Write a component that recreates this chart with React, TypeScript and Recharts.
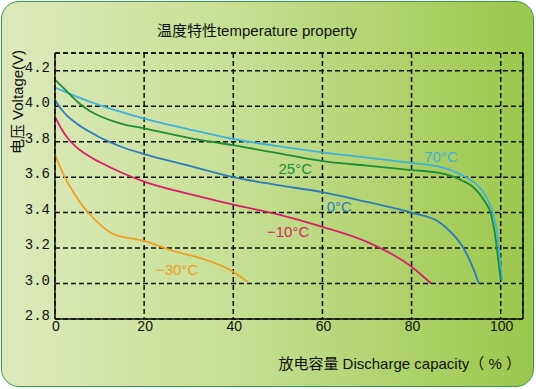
import React from "react";
import {
  CartesianGrid,
  Label,
  Line,
  LineChart,
  ReferenceDot,
  ReferenceLine,
  XAxis,
  YAxis
} from "recharts";

// discharge capacity (%) and voltage (V) per temperature
const cap70 = [0, 5, 10, 15, 20, 30, 40, 50, 60, 70, 80, 86, 91.4, 93.5, 95, 96.5, 98, 99.2, 99.8, 100.3];
const volt70 = [4.105, 4.053, 4.006, 3.966, 3.93, 3.87, 3.815, 3.775, 3.74, 3.71, 3.68, 3.66, 3.61, 3.58, 3.55, 3.5, 3.415, 3.285, 3.15, 3.02];

const cap25 = [0, 2, 4, 6, 8, 10, 15, 20, 30, 40, 50, 60, 70, 80, 86, 91.4, 93.5, 95.1, 96.5, 97.7, 98.9, 99.5, 100];
const volt25 = [4.15, 4.1, 4.05, 4.005, 3.97, 3.945, 3.9, 3.875, 3.822, 3.78, 3.735, 3.69, 3.665, 3.64, 3.625, 3.58, 3.55, 3.51, 3.46, 3.4, 3.245, 3.12, 3.02];

const cap0 = [0, 1.5, 3, 5, 7.5, 10, 15, 20, 30, 40, 50, 60, 70, 80, 86, 88.4, 91.4, 93.6, 95.1];
const volt0 = [4.035, 3.98, 3.94, 3.9, 3.86, 3.825, 3.77, 3.73, 3.665, 3.6, 3.555, 3.515, 3.46, 3.4, 3.35, 3.3, 3.21, 3.1, 3.0];

const capM10 = [0, 1.5, 3, 5, 7.5, 10, 15, 20, 30, 40, 50, 60, 70, 80, 84.4];
const voltM10 = [3.94, 3.87, 3.815, 3.765, 3.72, 3.685, 3.625, 3.575, 3.505, 3.445, 3.39, 3.32, 3.235, 3.095, 3.0];

const capM30 = [0, 2, 4, 6, 8, 10, 12, 14, 17, 20, 25.7, 32.4, 40, 43.2];
const voltM30 = [3.725, 3.61, 3.52, 3.445, 3.385, 3.335, 3.295, 3.27, 3.255, 3.24, 3.19, 3.145, 3.067, 3.01];

const xTicks = [0, 20, 40, 60, 80, 100];
const yTicks = [2.8, 3.0, 3.2, 3.4, 3.6, 3.8, 4.0, 4.2];

const toPoints = (caps: number[], volts: number[]) =>
  caps.map((c, i) => ({ cap: c, v: volts[i] }));

const series = [
  { name: "70", color: "#3eb1dc", data: toPoints(cap70, volt70) },
  { name: "25", color: "#1f8c38", data: toPoints(cap25, volt25) },
  { name: "0", color: "#2c7bba", data: toPoints(cap0, volt0) },
  { name: "-10", color: "#d81e66", data: toPoints(capM10, voltM10) },
  { name: "-30", color: "#eaa024", data: toPoints(capM30, voltM30) }
];

// curve captions, placed in data coordinates
const captions = [
  { text: "70°C", cap: 86.6, v: 3.714, color: "#3eb1dc" },
  { text: "25°C", cap: 53.9, v: 3.646, color: "#1f8c38" },
  { text: "0°C", cap: 63.8, v: 3.432, color: "#2c7bba" },
  { text: "−10°C", cap: 52.3, v: 3.29, color: "#d81e66" },
  { text: "−30°C", cap: 27.4, v: 3.076, color: "#eaa024" }
];

const FONT = "'Liberation Sans', 'Noto Sans CJK SC', sans-serif";

const YTick = ({ x, y, payload }: any) => (
  <text
    x={x}
    y={y - 3}
    textAnchor="end"
    dominantBaseline="central"
    fontFamily="'Liberation Mono', monospace"
    fontSize={14}
    fill="#111"
  >
    {Number(payload.value).toFixed(1)}
  </text>
);

const XTick = ({ x, y, payload }: any) => (
  <text
    x={x + 1}
    y={y + 5}
    textAnchor="middle"
    dominantBaseline="central"
    fontFamily={FONT}
    fontSize={14}
    fill="#111"
  >
    {payload.value}
  </text>
);

export default function App() {
  return (
    <div style={{ position: "absolute", left: 0, top: 0, width: 536, height: 389 }}>
      <div
        style={{
          position: "absolute",
          left: 1,
          top: 1,
          width: 531,
          height: 384,
          borderRadius: 18,
          border: "1.5px solid #2f9c4c",
          background: "linear-gradient(90deg, #dde9bc 0%, #c6df93 45%, #9bc74b 100%)"
        }}
      />
      <div
        style={{
          position: "absolute",
          left: 0,
          top: 19,
          width: 514,
          textAlign: "center",
          fontFamily: FONT,
          fontSize: 15,
          color: "#111"
        }}
      >
        温度特性temperature property
      </div>
      <div style={{ position: "absolute", left: 0, top: 0 }}>
        <LineChart
          width={536}
          height={389}
          margin={{ top: 53, right: 13, bottom: 40, left: 0 }}
        >
          <CartesianGrid
            stroke="#111"
            strokeWidth={1.5}
            strokeDasharray="5 3"
            vertical
            horizontal
          />
          <XAxis
            type="number"
            dataKey="cap"
            domain={[0, 105]}
            ticks={xTicks}
            height={30}
            tickLine={false}
            tickSize={0}
            axisLine={{ stroke: "#111", strokeWidth: 1.5 }}
            tick={<XTick />}
            allowDataOverflow
          >
            <Label
              content={() => (
                <text
                  x={521}
                  y={363}
                  textAnchor="end"
                  dominantBaseline="central"
                  fontFamily={FONT}
                  fontSize={15}
                  fill="#111"
                >
                  放电容量 Discharge capacity（ % ）
                </text>
              )}
            />
          </XAxis>
          <YAxis
            type="number"
            domain={[2.8, 4.3]}
            ticks={yTicks}
            width={55}
            tickLine={false}
            tickSize={3}
            axisLine={{ stroke: "#111", strokeWidth: 1.5 }}
            tick={<YTick />}
            allowDataOverflow
          >
            <Label
              content={() => (
                <text
                  x={17}
                  y={102}
                  transform="rotate(-90 17 102)"
                  textAnchor="middle"
                  dominantBaseline="central"
                  fontFamily={FONT}
                  fontSize={15}
                  fill="#111"
                >
                  电压 Voltage(V)
                </text>
              )}
            />
          </YAxis>
          <ReferenceLine y={4.3} stroke="#111" strokeWidth={1.5} strokeDasharray="5 3" />
          <ReferenceLine x={105} stroke="#111" strokeWidth={1.5} />
          {series.map((s) => (
            <Line
              key={s.name}
              data={s.data}
              dataKey="v"
              type="monotone"
              stroke={s.color}
              strokeWidth={1.8}
              dot={false}
              activeDot={false}
              isAnimationActive={false}
            />
          ))}
          {captions.map((c) => (
            <ReferenceDot
              key={c.text}
              x={c.cap}
              y={c.v}
              r={0}
              stroke="none"
              fill="none"
              label={{
                value: c.text,
                position: "center",
                fill: c.color,
                fontSize: 15,
                fontFamily: FONT
              }}
            />
          ))}
        </LineChart>
      </div>
    </div>
  );
}
